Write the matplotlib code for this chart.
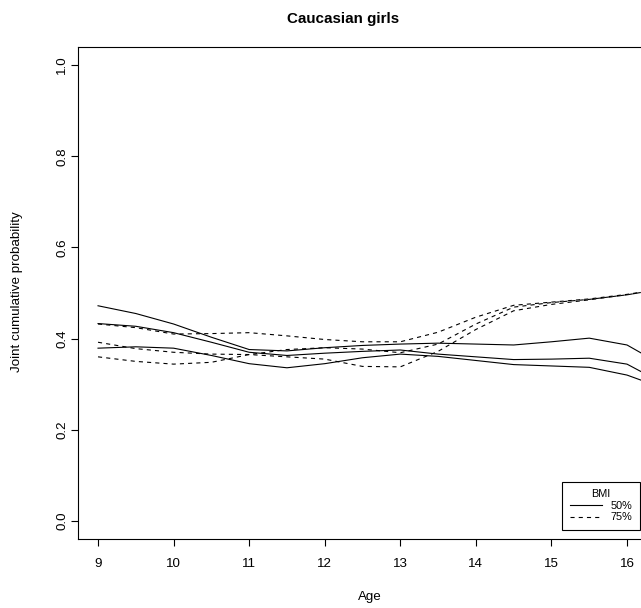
import numpy as np
import matplotlib
matplotlib.use("Agg")
import matplotlib.pyplot as plt

plt.rcParams['font.family'] = ['Liberation Sans', 'DejaVu Sans']

# Age grid (half-year steps)
age = [9, 9.5, 10, 10.5, 11, 11.5, 12, 12.5, 13, 13.5, 14, 14.5, 15, 15.5, 16, 16.5]

# BMI 50% : estimate and band (solid)
bmi50_upper = [0.472, 0.455, 0.432, 0.403, 0.376, 0.373, 0.380, 0.385, 0.388,
               0.390, 0.388, 0.386, 0.393, 0.401, 0.386, 0.339]
bmi50_mid = [0.433, 0.427, 0.413, 0.392, 0.370, 0.363, 0.368, 0.372, 0.375,
             0.366, 0.360, 0.354, 0.355, 0.357, 0.344, 0.300]
bmi50_lower = [0.379, 0.382, 0.379, 0.363, 0.345, 0.336, 0.345, 0.358, 0.366,
               0.361, 0.352, 0.343, 0.340, 0.337, 0.320, 0.290]

# BMI 75% (dashed)
bmi75_a = [0.432, 0.424, 0.410, 0.411, 0.413, 0.406, 0.398, 0.393, 0.393,
           0.414, 0.447, 0.473, 0.480, 0.487, 0.497, 0.510]
bmi75_b = [0.392, 0.378, 0.370, 0.366, 0.365, 0.360, 0.355, 0.339, 0.338,
           0.372, 0.420, 0.461, 0.475, 0.485, 0.496, 0.510]
bmi75_c = [0.360, 0.350, 0.344, 0.348, 0.365, 0.376, 0.380, 0.377, 0.369,
           0.388, 0.432, 0.469, 0.479, 0.486, 0.496, 0.510]

xticks = [9, 10, 11, 12, 13, 14, 15, 16]
yticks = [0.0, 0.2, 0.4, 0.6, 0.8, 1.0]

W, H = 641, 608
fig = plt.figure(figsize=(W / 100, H / 100), dpi=100)
# plot region runs past the right edge of the picture
ax = fig.add_axes([78 / W, (H - 539) / H, 610 / W, 492 / H])

lw = 0.8
ax.plot(age, bmi50_upper, color='black', lw=lw)
ax.plot(age, bmi50_mid, color='black', lw=lw, label='50%')
ax.plot(age, bmi50_lower, color='black', lw=lw)
for i, s in enumerate([bmi75_a, bmi75_b, bmi75_c]):
    ln, = ax.plot(age, s, color='black', lw=lw, label='75%' if i == 0 else None)
    ln.set_dashes((3.7, 3.7))

ax.set_xlim(8.735, 8.735 + 610 / 75.57)
ax.set_ylim(-0.0395, 1.0395)
ax.set_xticks(xticks)
ax.set_xticklabels([str(t) for t in xticks])
ax.set_yticks(yticks)
ax.set_yticklabels([f"{t:.1f}" for t in yticks], rotation=90, va='center')
ax.tick_params(axis='both', direction='out', length=5, width=0.8, labelsize=9.6)
ax.tick_params(axis='x', pad=9)
ax.tick_params(axis='y', pad=2)
for sp in ax.spines.values():
    sp.set_linewidth(0.8)

fig.text(370 / W, 1 - 597 / H, "Age", ha='center', va='center', fontsize=9.6)
fig.text(17 / W, 1 - 292 / H, "Joint cumulative probability", ha='center', va='center',
         rotation=90, fontsize=9.6)
fig.text(343 / W, 1 - 19 / H, "Caucasian girls", ha='center', va='center',
         fontsize=10.9, fontweight='bold')

leg = ax.legend(title='BMI', loc='lower right', bbox_to_anchor=(640 / W, (H - 530) / H),
                bbox_transform=fig.transFigure, fontsize=7.8, title_fontsize=7.8,
                fancybox=False, edgecolor='black', framealpha=1, borderpad=0.7,
                handlelength=3.0, handletextpad=0.8, labelspacing=0.15, borderaxespad=0)
leg.get_frame().set_linewidth(0.8)

fig.savefig("out.png", dpi=100)
